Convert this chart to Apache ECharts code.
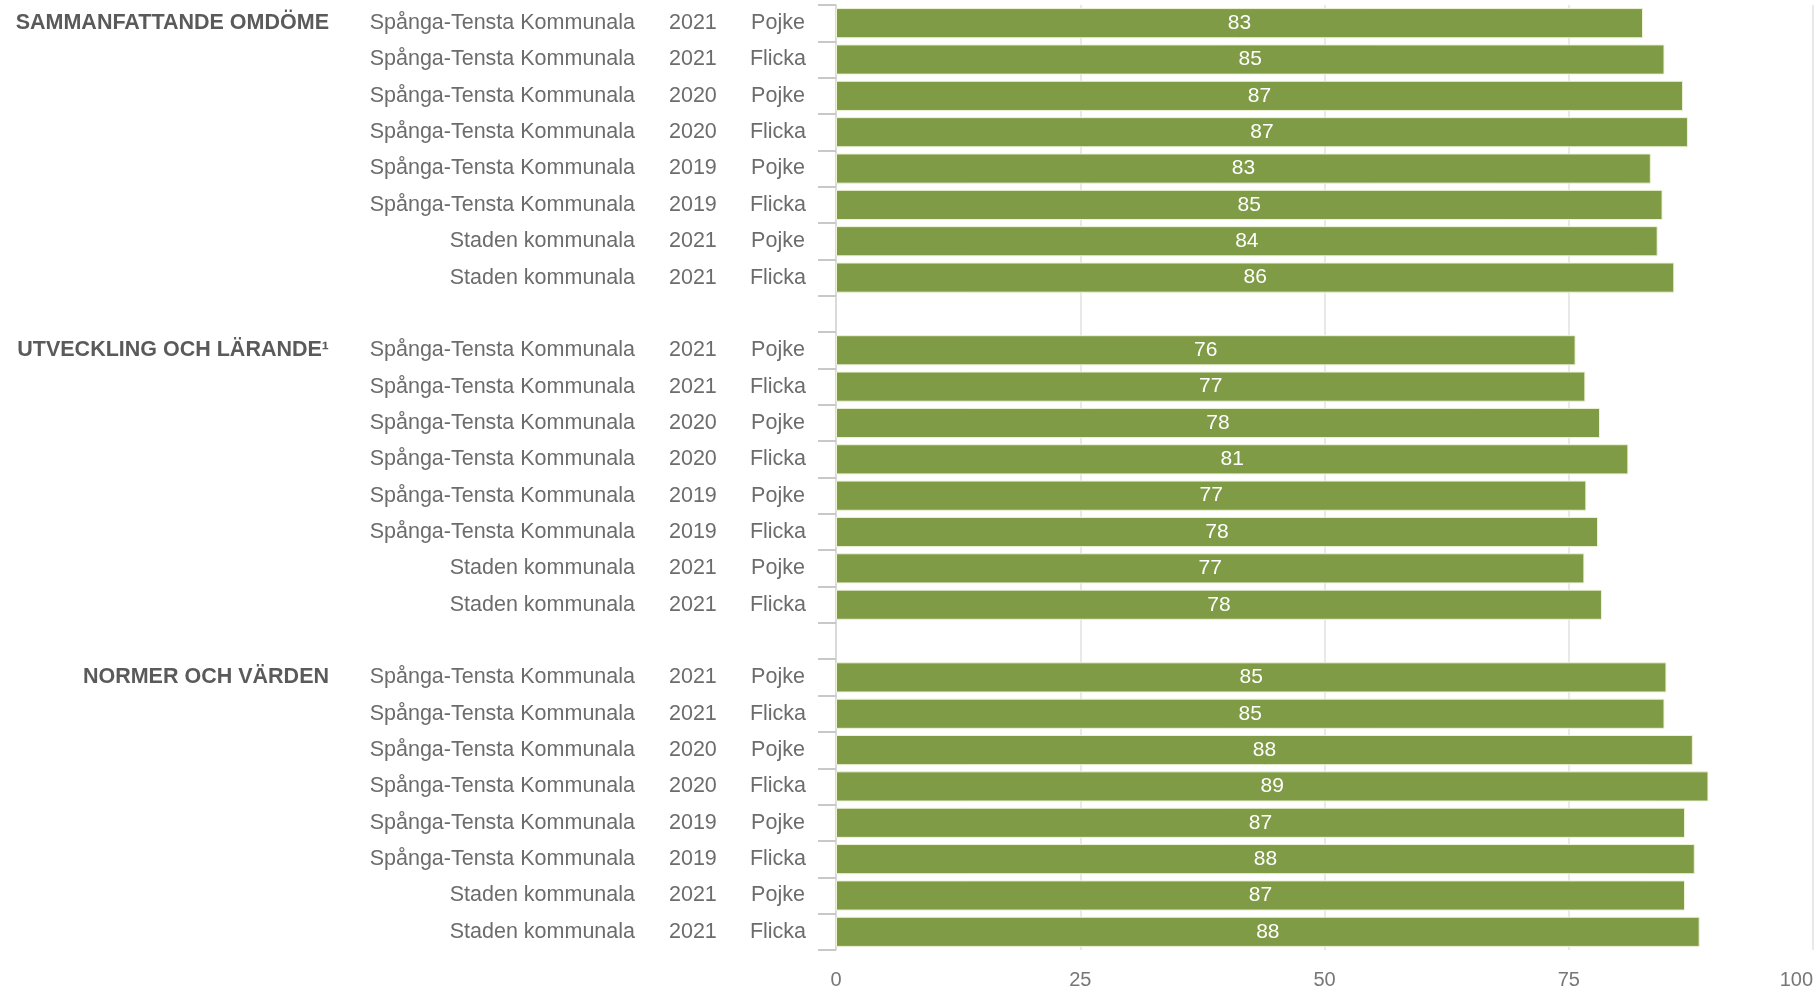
<!DOCTYPE html>
<html>
<head>
<meta charset="utf-8">
<script src="https://cdn.jsdelivr.net/npm/echarts@6/dist/echarts.min.js"></script>
<style>
  html, body { margin: 0; padding: 0; background: #fff; }
  #chart { width: 1816px; height: 990px; }
</style>
</head>
<body>
<div id="chart"></div>
<script>
// grupper (rubriker)
var groups = ['SAMMANFATTANDE OMDÖME', 'UTVECKLING OCH LÄRANDE¹', 'NORMER OCH VÄRDEN'];
// rader inom varje grupp
var units = ['Spånga-Tensta Kommunala', 'Spånga-Tensta Kommunala', 'Spånga-Tensta Kommunala',
  'Spånga-Tensta Kommunala', 'Spånga-Tensta Kommunala', 'Spånga-Tensta Kommunala',
  'Staden kommunala', 'Staden kommunala'];
var years = ['2021', '2021', '2020', '2020', '2019', '2019', '2021', '2021'];
var genders = ['Pojke', 'Flicka', 'Pojke', 'Flicka', 'Pojke', 'Flicka', 'Pojke', 'Flicka'];
// värden per grupp
var sammanfattande = [82.6, 84.8, 86.7, 87.2, 83.4, 84.6, 84.1, 85.8];
var utveckling = [75.7, 76.7, 78.2, 81.1, 76.8, 78.0, 76.6, 78.4];
var normer = [85.0, 84.8, 87.7, 89.3, 86.9, 87.9, 86.9, 88.4];
var xTicks = [0, 25, 50, 75, 100];

var groupValues = [sammanfattande, utveckling, normer];

// bygg raderna, med en tom rad mellan grupperna
var rows = [];
var values = [];
groups.forEach(function (g, gi) {
  if (gi > 0) {
    rows.push(null);
    values.push(null);
  }
  for (var i = 0; i < units.length; i++) {
    rows.push({ head: i === 0 ? g : '', unit: units[i], year: years[i], gender: genders[i] });
    values.push(groupValues[gi][i]);
  }
});
var categories = rows.map(function (r, i) { return 'r' + i; });

var chart = echarts.init(document.getElementById('chart'));
var font = '"Liberation Sans", Arial, Helvetica, sans-serif';
var axisX = 836;

// en "kolumn" med etiketter = en extra y-axel utan linje/ticks
function labelAxis(field, anchorX, align, bold) {
  return {
    type: 'category',
    position: 'left',
    inverse: true,
    data: categories,
    axisLine: { show: false },
    axisTick: { show: false },
    splitLine: { show: false },
    axisLabel: {
      interval: 0,
      hideOverlap: false,
      margin: axisX - anchorX,
      align: align,
      fontSize: 21.5,
      fontFamily: font,
      fontWeight: bold ? 'bold' : 'normal',
      color: bold ? '#5a5a5a' : '#6c6c6c',
      padding: [3, 0, 0, 0],
      formatter: function (v, idx) {
        var r = rows[idx];
        return r ? r[field] : '';
      }
    }
  };
}

var option = {
  animation: false,
  textStyle: { fontFamily: font },
  grid: { left: axisX, right: 3, top: 5, bottom: 40, containLabel: false, outerBoundsMode: 'none' },
  xAxis: {
    type: 'value',
    min: xTicks[0],
    max: xTicks[xTicks.length - 1],
    interval: 25,
    axisLine: { show: false },
    axisTick: { show: false },
    splitLine: { lineStyle: { color: '#e2e2e2', width: 1.5 } },
    axisLabel: {
      color: '#777',
      fontSize: 20,
      fontFamily: font,
      margin: 20,
      alignMaxLabel: 'right'
    }
  },
  yAxis: [
    {
      type: 'category',
      position: 'left',
      inverse: true,
      data: categories,
      axisLine: { show: true, lineStyle: { color: '#d6d6d6', width: 1.5 } },
      axisTick: { show: true, length: 18, lineStyle: { color: '#c8c8c8', width: 2 } },
      axisLabel: {
        interval: 0,
        hideOverlap: false,
        margin: axisX - 778,
        align: 'center',
        fontSize: 21.5,
        fontFamily: font,
        color: '#6c6c6c',
        padding: [3, 0, 0, 0],
        formatter: function (v, idx) {
          var r = rows[idx];
          return r ? r.gender : '';
        }
      }
    },
    labelAxis('year', 669, 'left', false),
    labelAxis('unit', 635, 'right', false),
    labelAxis('head', 329, 'right', true)
  ],
  series: [{
    type: 'bar',
    yAxisIndex: 0,
    data: values,
    barCategoryGap: '17%',
    itemStyle: { color: '#7f9b45', borderColor: '#eef3d6', borderWidth: 1 },
    label: {
      show: true,
      position: 'inside',
      color: '#fff',
      fontSize: 21,
      fontFamily: font,
      formatter: function (p) { return Math.round(p.value); }
    }
  }]
};

chart.setOption(option);
</script>
</body>
</html>
